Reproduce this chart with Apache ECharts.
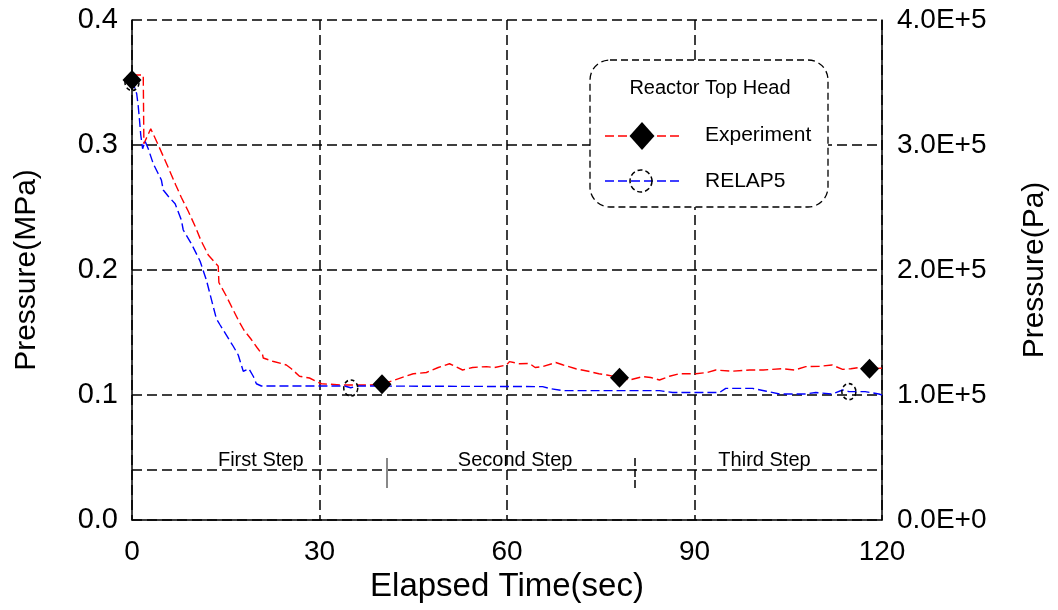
<!DOCTYPE html>
<html>
<head>
<meta charset="utf-8">
<script src="https://cdn.jsdelivr.net/npm/echarts@6/dist/echarts.min.js"></script>
<style>html,body{margin:0;padding:0;background:#fff}#c{width:1058px;height:610px}</style>
</head>
<body>
<div id="c"></div>
<script>
// ---- data ----
const expT = [0,1.8,1.9,3.0,4.2,5.8,7.0,7.9,9.0,10.1,11.0,12.2,13.8,13.9,15.0,16.0,17.0,17.9,19.0,20.0,20.9,21.0,22.5,24.0,24.7,25.5,26.8,28.4,30.3,33.7,38,40,42.8,45,47.1,49,50.8,52.9,54.5,56.7,58,59.9,60.4,62,63.6,64.5,65.7,67.8,69,71,73,74.7,76,78,79.6,81.7,83,84.4,86,87.6,90.2,92,93.4,96,98.8,101,104,106,107.8,110,112,113.7,115,116.3,118,120];
const expP = [0.356,0.356,0.301,0.313,0.300,0.282,0.268,0.258,0.247,0.235,0.224,0.212,0.203,0.190,0.180,0.170,0.160,0.152,0.145,0.138,0.132,0.1296,0.127,0.125,0.124,0.121,0.115,0.1136,0.109,0.108,0.108,0.1086,0.1133,0.117,0.118,0.122,0.125,0.120,0.122,0.1227,0.122,0.124,0.1267,0.125,0.1253,0.122,0.1227,0.126,0.124,0.121,0.119,0.117,0.116,0.114,0.112,0.1147,0.114,0.112,0.115,0.117,0.117,0.118,0.120,0.119,0.120,0.120,0.121,0.120,0.1227,0.123,0.124,0.1205,0.121,0.122,0.121,0.1215];
const relT = [0,0.2,0.75,1.0,1.2,1.4,1.7,2.1,2.6,3.4,4.2,4.7,5.0,5.8,6.9,7.9,8.2,9.5,10.9,11.9,13.5,14.1,16.2,17.0,17.8,18.7,19.4,19.9,20.7,34,35,36,65.7,67,68.9,84.4,86.5,94,95,99.3,101.5,103.6,107.8,109.4,112,113.7,114.7,117.3,119.5,120];
const relP = [0.352,0.349,0.341,0.331,0.320,0.308,0.297,0.303,0.297,0.285,0.277,0.272,0.264,0.259,0.253,0.240,0.232,0.221,0.207,0.192,0.161,0.156,0.139,0.132,0.119,0.121,0.115,0.109,0.1072,0.1072,0.1058,0.1072,0.1067,0.105,0.1035,0.1035,0.102,0.102,0.1053,0.1053,0.103,0.1008,0.1008,0.102,0.1008,0.104,0.1027,0.1027,0.1008,0.100];
const expMarkT = [0,40,78,118];
const expMarkP = [0.352,0.1086,0.1139,0.121];
const relMarkT = [0,35,114.7];
const relMarkP = [0.350,0.1056,0.1027];
const stepLabels = ['First Step','Second Step','Third Step'];
const stepLabelT = [20.6,61.3,101.2];
const stepLabelP = 0.0475;
const stepLineP = 0.037;
const stepTickT = [40.7,80.4];
const stepTickP = [0.0256,0.0496];
const seriesNames = ['Experiment','RELAP5'];
const legendTitle = 'Reactor Top Head';

const FONT = '"Liberation Sans", Arial, sans-serif';
const zip = (a,b)=>a.map((v,i)=>[v,b[i]]);

const chart = echarts.init(document.getElementById('c'), null, {renderer:'canvas'});
const gridDash = {color:'#000', width:1.5, type:[10,5]};

chart.setOption({
  animation:false,
  backgroundColor:'#fff',
  grid:{left:132,right:175,top:20,bottom:90},
  xAxis:{
    type:'value',min:0,max:120,interval:30,
    name:'Elapsed Time(sec)',nameLocation:'middle',nameGap:44,
    nameTextStyle:{fontFamily:FONT,fontSize:33,color:'#000'},
    axisLine:{lineStyle:{color:'#000',width:1.5}},
    axisTick:{show:false},
    axisLabel:{fontFamily:FONT,fontSize:28,color:'#000',margin:18},
    splitLine:{show:true,lineStyle:gridDash}
  },
  yAxis:[{
    type:'value',min:0,max:0.4,interval:0.1,position:'left',
    name:'Pressure(MPa)',nameLocation:'middle',nameGap:90,
    nameTextStyle:{fontFamily:FONT,fontSize:30,color:'#000'},
    axisLine:{show:true,lineStyle:{color:'#000',width:1.5}},
    axisTick:{show:false},
    axisLabel:{fontFamily:FONT,fontSize:29,color:'#000',margin:14,formatter:v=>v.toFixed(1)},
    splitLine:{show:true,lineStyle:gridDash}
  },{
    type:'value',min:0,max:400000,interval:100000,position:'right',
    name:'Pressure(Pa)',nameLocation:'middle',nameGap:138,
    nameTextStyle:{fontFamily:FONT,fontSize:30,color:'#000'},
    axisLine:{show:true,lineStyle:{color:'#000',width:1.5}},
    axisTick:{show:false},
    axisLabel:{fontFamily:FONT,fontSize:28,color:'#000',margin:15,
      formatter:v=> v===0 ? '0.0E+0' : (v/1e5).toFixed(1)+'E+5'},
    splitLine:{show:false}
  }],
  series:[
    {
      name:seriesNames[0],type:'line',data:zip(expT,expP),symbol:'none',
      lineStyle:{color:'#ff0000',width:1.4,type:[9,4]},z:3,
      markLine:{
        silent:true,symbol:'none',label:{show:false},animation:false,
        data:[
          {yAxis:stepLineP,lineStyle:{color:'#000',width:1.5,type:[10,5]}},
          [{coord:[stepTickT[0],stepTickP[0]],lineStyle:{color:'#888',width:2,type:'solid'}},{coord:[stepTickT[0],stepTickP[1]]}],
          [{coord:[stepTickT[1],stepTickP[0]],lineStyle:{color:'#000',width:1.5,type:[8,3]}},{coord:[stepTickT[1],stepTickP[1]]}]
        ]
      }
    },
    {
      name:seriesNames[1],type:'line',data:zip(relT,relP),symbol:'none',
      lineStyle:{color:'#0000ff',width:1.4,type:[9,4]},z:3
    },
    {
      type:'scatter',data:zip(expMarkT,expMarkP),symbol:'diamond',symbolSize:[19,20],
      itemStyle:{color:'#000',opacity:1},z:5
    },
    {
      type:'scatter',data:zip(relMarkT,relMarkP),symbol:'circle',symbolSize:[14,16],
      itemStyle:{color:'rgba(0,0,0,0)',borderColor:'#000',borderWidth:1.6,borderType:[4,3],opacity:1},z:5
    },
    {
      type:'scatter',symbolSize:0,silent:true,
      itemStyle:{opacity:1},
      data:stepLabels.map((s,i)=>({name:s,value:[stepLabelT[i],stepLabelP]})),
      label:{show:true,position:'inside',formatter:p=>p.name,fontFamily:FONT,fontSize:20,color:'#000',opacity:1}
    }
  ],
  graphic:[
    {type:'rect',shape:{x:590,y:60,width:238,height:147,r:20},
     style:{fill:'#fff',stroke:'#000',lineWidth:1.3,lineDash:[7,4]},z:100},
    {type:'text',x:710,y:88,style:{text:legendTitle,font:'20px '+FONT,fill:'#000',textAlign:'center',textVerticalAlign:'middle'},z:101},
    {type:'line',shape:{x1:605,y1:136,x2:680,y2:136},style:{stroke:'#ff0000',lineWidth:1.4,lineDash:[9,4]},z:101},
    {type:'polygon',shape:{points:[[642,122],[654.5,136],[642,150],[629.5,136]]},style:{fill:'#000'},z:102},
    {type:'text',x:705,y:135,style:{text:seriesNames[0],font:'21px '+FONT,fill:'#000',textAlign:'left',textVerticalAlign:'middle'},z:101},
    {type:'line',shape:{x1:605,y1:181,x2:680,y2:181},style:{stroke:'#0000ff',lineWidth:1.4,lineDash:[9,4]},z:101},
    {type:'circle',shape:{cx:641,cy:181,r:11},style:{fill:'none',stroke:'#000',lineWidth:1.5,lineDash:[5,3]},z:102},
    {type:'text',x:705,y:181,style:{text:seriesNames[1],font:'21px '+FONT,fill:'#000',textAlign:'left',textVerticalAlign:'middle'},z:101}
  ]
});
</script>
</body>
</html>
